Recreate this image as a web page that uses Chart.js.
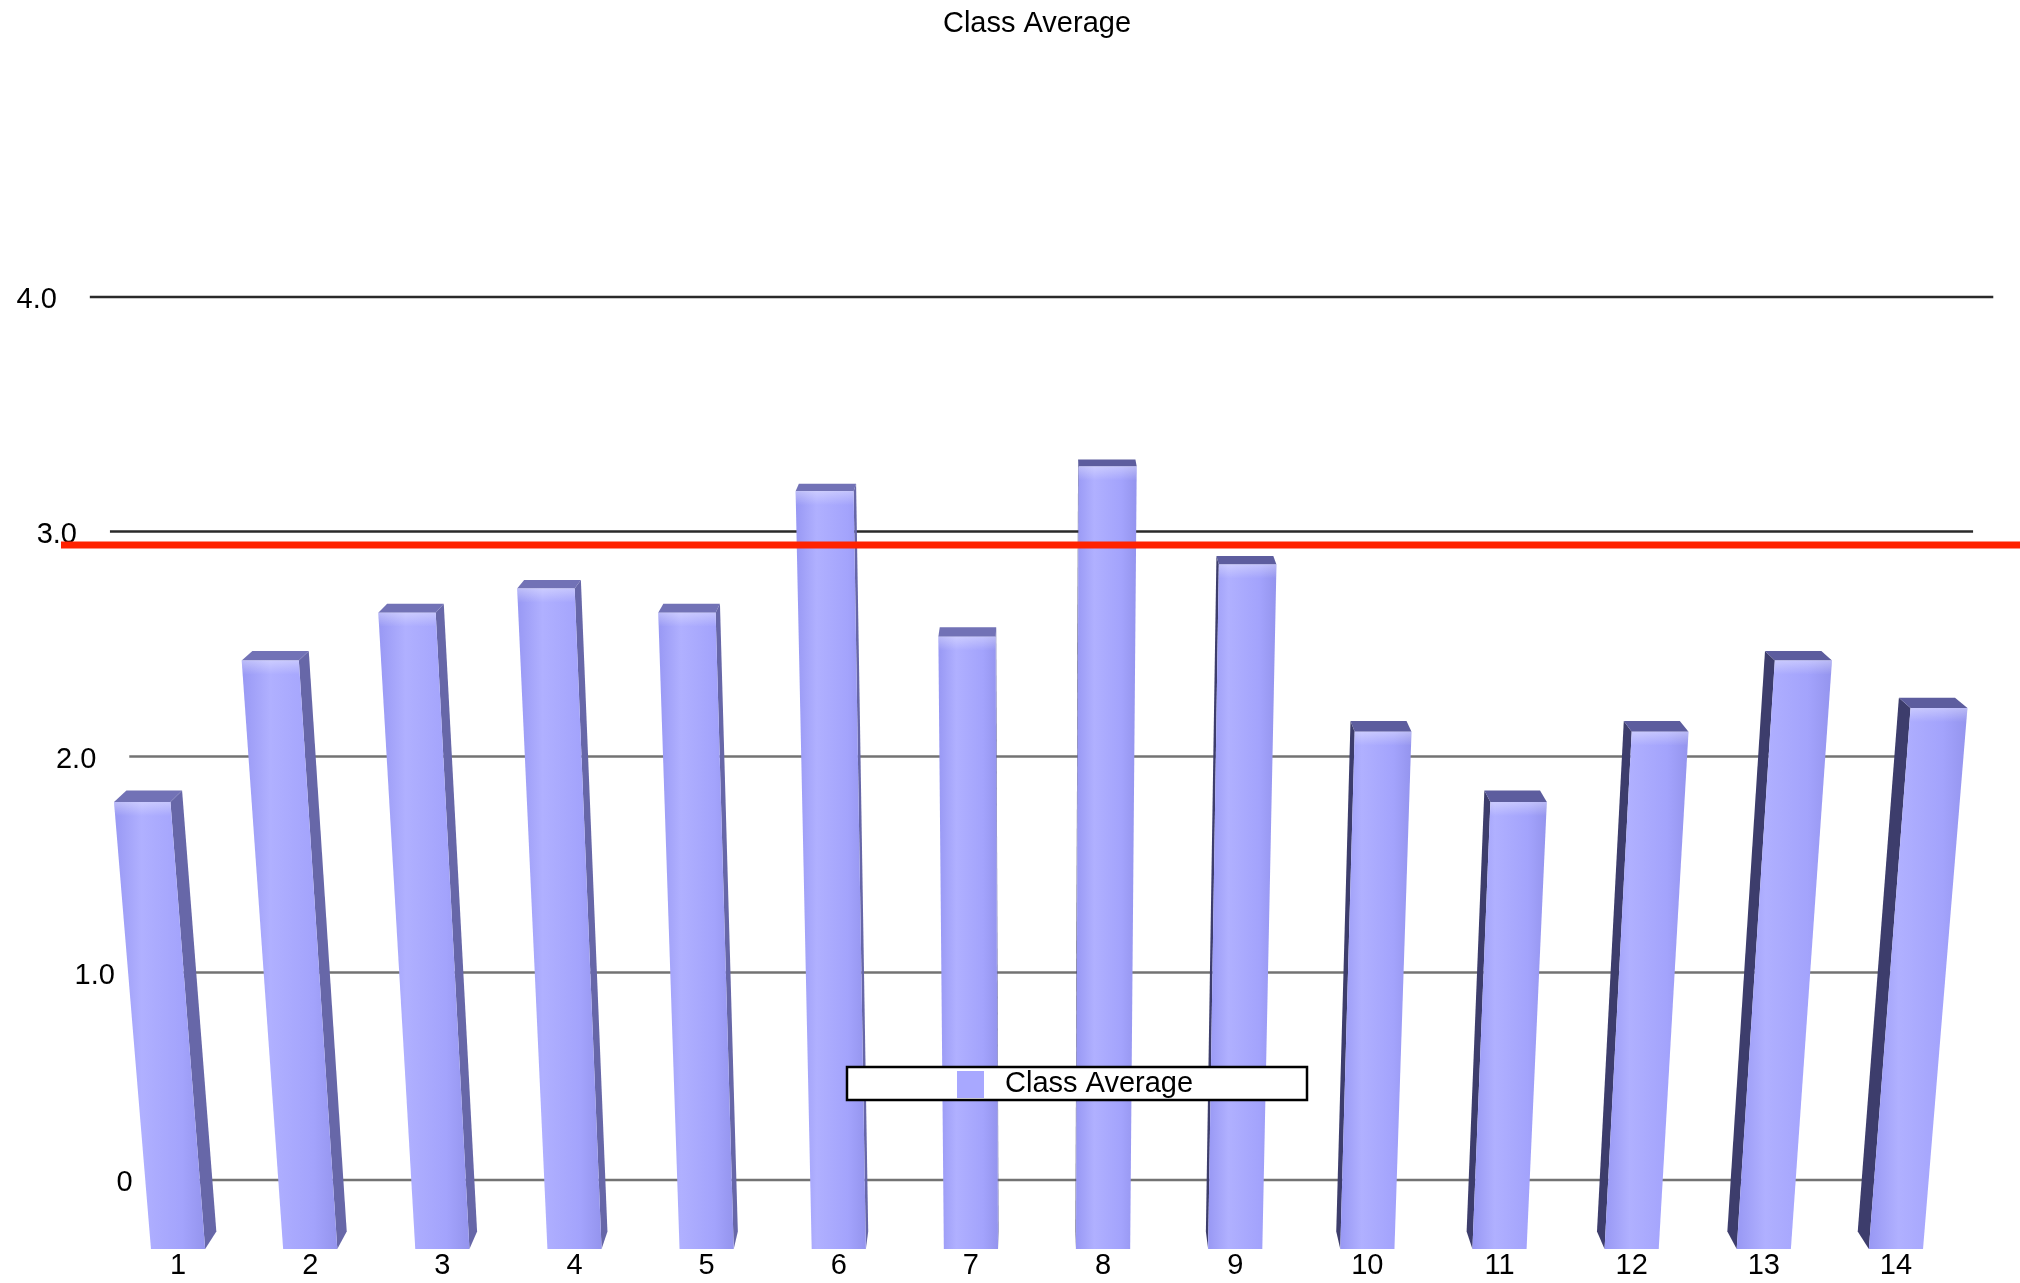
<!DOCTYPE html>
<html>
<head>
<meta charset="utf-8">
<title>Class Average</title>
<script src="https://cdn.jsdelivr.net/npm/chart.js@4.4.1/dist/chart.umd.min.js"></script>
<style>
  html, body { margin: 0; padding: 0; background: #ffffff; }
  #wrap { width: 2020px; height: 1283px; }
</style>
</head>
<body>
<div id="wrap"><canvas id="chart" width="2020" height="1283"></canvas></div>
<script>
// ---- data ----
const categories = ['1', '2', '3', '4', '5', '6', '7', '8', '9', '10', '11', '12', '13', '14'];
const classAverage = [2.0, 2.6, 2.8, 2.9, 2.8, 3.3, 2.7, 3.4, 3.0, 2.3, 2.0, 2.3, 2.6, 2.4];
const yTickValues = [0, 1, 2, 3, 4];
const yTickLabels = ['0', '1.0', '2.0', '3.0', '4.0'];
const referenceLevel = 3.08;

// ---- look ----
const FONT = '"Liberation Sans", Arial, Helvetica, sans-serif';
const view = {
  vpY: -60,          // depth vanishing point (y), x is the plot centre
  cxShift: 3,        // vanishing point offset from plot centre
  barDepth: 0.0134,  // how far the bar boxes recede
  wallDepth: 0.0527, // how far back the grid wall sits
  vertDist: 10750,   // distance to the vertical vanishing point below the floor
  insetL: 5,
  insetR: -4
};
const colors = {
  swatch: '#a8a8ff',
  sideLight: '#6767a8',
  sideDark: '#3d3d6c',
  topLeft: '#7272b6',
  topRight: '#5d5d9e',
  gridNear: '#2a2a2a',
  gridFar: '#737373',
  ref: '#ff2200'
};

Chart.defaults.font.family = FONT;
Chart.defaults.color = '#000000';

// Linear value axis with a projective (foreshortened) pixel mapping.
class PerspectiveScale extends Chart.LinearScale {
  static id = 'perspective';
  static defaults = Chart.LinearScale.defaults;
  _k() {
    const c = this.options.foreshorten || 0;
    return (this.max - this.min) / (1 + c * this.max);
  }
  getPixelForValue(value) {
    if (value === null || value === undefined || isNaN(value)) return NaN;
    const c = this.options.foreshorten || 0;
    const d = ((value - this.min) / (1 + c * value)) / this._k();
    return this.getPixelForDecimal(d);
  }
  getValueForPixel(pixel) {
    const c = this.options.foreshorten || 0;
    const dk = this.getDecimalForPixel(pixel) * this._k();
    return (this.min + dk) / (1 - dk * c);
  }
}
Chart.register(PerspectiveScale);

function slantX(xBase, y, base, cx) {
  return xBase + (xBase - cx) * (base - y) / view.vertDist;
}
function recede(p, k, cx) {
  return { x: p.x + (cx - p.x) * k, y: p.y + (view.vpY - p.y) * k };
}
function poly(ctx, pts, fill) {
  ctx.beginPath();
  ctx.moveTo(pts[0].x, pts[0].y);
  for (let i = 1; i < pts.length; i++) ctx.lineTo(pts[i].x, pts[i].y);
  ctx.closePath();
  ctx.fillStyle = fill;
  ctx.fill();
}

const perspectivePlugin = {
  id: 'perspectiveBars',
  beforeDatasetsDraw(chart) {
    const ctx = chart.ctx;
    const area = chart.chartArea;
    const yScale = chart.scales.y;
    const cx = (area.left + area.right) / 2 + view.cxShift;
    const base = area.bottom;

    ctx.save();

    // back wall grid lines and value labels
    yTickValues.forEach((v, i) => {
      const fy = yScale.getPixelForValue(v);
      const l = recede({ x: slantX(area.left + view.insetL, fy, base, cx), y: fy }, view.wallDepth, cx);
      const r = recede({ x: slantX(area.right - view.insetR, fy, base, cx), y: fy }, view.wallDepth, cx);
      ctx.beginPath();
      ctx.moveTo(l.x, l.y);
      ctx.lineTo(r.x, r.y);
      ctx.lineWidth = 2.5;
      ctx.strokeStyle = v >= 3 ? colors.gridNear : colors.gridFar;
      ctx.stroke();
      ctx.font = '29px ' + FONT;
      ctx.fillStyle = '#000000';
      ctx.textAlign = 'right';
      ctx.textBaseline = 'middle';
      ctx.fillText(yTickLabels[i], l.x - 33, l.y + 3);
    });

    // 3D bars
    const meta = chart.getDatasetMeta(0);
    meta.data.forEach((el) => {
      const p = el.getProps(['x', 'y', 'base', 'width'], true);
      const hw = p.width / 2;
      const BL = { x: p.x - hw, y: p.base };
      const BR = { x: p.x + hw, y: p.base };
      const TL = { x: slantX(p.x - hw, p.y, p.base, cx), y: p.y };
      const TR = { x: slantX(p.x + hw, p.y, p.base, cx), y: p.y };
      const leftHalf = p.x < cx;
      if (leftHalf) {
        poly(ctx, [TR, BR, recede(BR, view.barDepth, cx), recede(TR, view.barDepth, cx)], colors.sideLight);
      } else {
        poly(ctx, [TL, BL, recede(BL, view.barDepth, cx), recede(TL, view.barDepth, cx)], colors.sideDark);
      }
      poly(ctx, [TL, TR, recede(TR, view.barDepth, cx), recede(TL, view.barDepth, cx)],
        leftHalf ? colors.topLeft : colors.topRight);
      const g = ctx.createLinearGradient(Math.min(TL.x, BL.x), 0, Math.max(TR.x, BR.x), 0);
      g.addColorStop(0, '#9898f4');
      g.addColorStop(0.3, '#b0b0ff');
      g.addColorStop(0.75, '#a3a3fc');
      g.addColorStop(1, '#9494ee');
      poly(ctx, [TL, TR, BR, BL], g);
      // soft highlight just under the top edge
      const hl = ctx.createLinearGradient(0, p.y, 0, p.y + 14);
      hl.addColorStop(0, 'rgba(255,255,255,0.35)');
      hl.addColorStop(1, 'rgba(255,255,255,0)');
      poly(ctx, [TL, TR, { x: slantX(p.x + hw, p.y + 14, p.base, cx), y: p.y + 14 },
        { x: slantX(p.x - hw, p.y + 14, p.base, cx), y: p.y + 14 }], hl);
    });

    // legend box
    const ds = chart.data.datasets[0];
    ctx.fillStyle = '#ffffff';
    ctx.fillRect(847, 1067, 460, 33);
    ctx.lineWidth = 2.5;
    ctx.strokeStyle = '#000000';
    ctx.strokeRect(847, 1067, 460, 33);
    ctx.fillStyle = colors.swatch;
    ctx.fillRect(957, 1071, 27, 27);
    ctx.fillStyle = '#000000';
    ctx.font = '29px ' + FONT;
    ctx.textAlign = 'left';
    ctx.textBaseline = 'middle';
    ctx.fillText(ds.label, 1005, 1084);

    // reference level line
    const ry = yScale.getPixelForValue(referenceLevel);
    ctx.beginPath();
    ctx.moveTo(61, ry);
    ctx.lineTo(chart.width, ry);
    ctx.lineWidth = 7;
    ctx.strokeStyle = colors.ref;
    ctx.stroke();

    ctx.restore();
    return false;
  }
};

new Chart(document.getElementById('chart'), {
  type: 'bar',
  data: {
    labels: categories,
    datasets: [{
      label: 'Class Average',
      data: classAverage,
      backgroundColor: colors.swatch,
      barPercentage: 0.41,
      categoryPercentage: 1.0
    }]
  },
  options: {
    responsive: false,
    animation: false,
    devicePixelRatio: 1,
    layout: { padding: { left: 112, right: 58, top: 0, bottom: 0 } },
    plugins: {
      legend: { display: false },
      tooltip: { enabled: false },
      title: {
        display: true,
        text: 'Class Average',
        color: '#000000',
        font: { size: 29, weight: 'normal', family: FONT, lineHeight: 1.2 },
        padding: { top: 7, bottom: 275 }
      }
    },
    scales: {
      x: {
        type: 'category',
        offset: true,
        grid: { display: false, drawTicks: false },
        border: { display: false },
        ticks: { padding: 1, maxRotation: 0, autoSkip: false, color: '#000000',
                 font: { size: 29, lineHeight: 1.1, family: FONT } }
      },
      y: {
        type: 'perspective',
        display: false,
        min: 0,
        max: 4,
        foreshorten: -0.019565
      }
    }
  },
  plugins: [perspectivePlugin]
});
</script>
</body>
</html>
